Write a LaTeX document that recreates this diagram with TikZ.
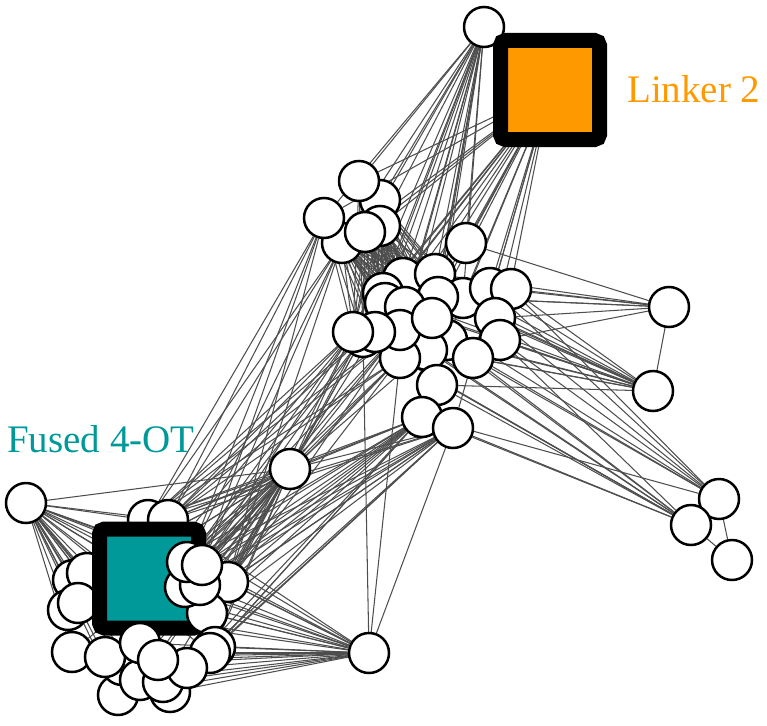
\documentclass[tikz,border=0pt]{standalone}
\usepackage{fontspec}
\setmainfont{Liberation Serif}
\usetikzlibrary{backgrounds}
\definecolor{edgegray}{RGB}{78,78,78}
\definecolor{tealc}{RGB}{0,153,153}
\definecolor{orangec}{RGB}{255,153,0}
\tikzset{
  circ/.style={circle, draw=black, fill=white, line width=2.5pt, minimum size=40pt, inner sep=0pt},
  hub/.style={rectangle, draw=black, line width=15pt, rounded corners=5pt, minimum size=99pt, inner sep=0pt},
  edge/.style={draw=edgegray, line width=1.05pt},
  lab/.style={anchor=base west, inner sep=0pt, font=\rmfamily\fontsize{39}{41}\selectfont}
}
\begin{document}
\begin{tikzpicture}[x=1pt,y=-1pt]
\useasboundingbox (0,0) rectangle (767,725);
% top and right
\node[circ] (t) at (484,27) {};
\node[hub, fill=orangec] (O) at (550,90) {};
\node[circ] (r1) at (669,307) {};
\node[circ] (r2) at (653,391) {};
\node[circ] (r3) at (719,499) {};
\node[circ] (r4) at (691,525) {};
\node[circ] (r5) at (732,560) {};
% upper cluster
\node[circ] (u7) at (466,243) {};
\node[circ] (u2) at (380,200) {};
\node[circ] (u1) at (359,181) {};
\node[circ] (u4) at (342,243) {};
\node[circ] (u3) at (324,218) {};
\node[circ] (u6) at (380,226) {};
\node[circ] (u5) at (365,232) {};
\node[circ] (u8) at (403,278) {};
\node[circ] (u9) at (435,274) {};
\node[circ] (u28) at (463,298) {};
\node[circ] (u10) at (490,288) {};
\node[circ] (u11) at (511,289) {};
\node[circ] (u12) at (383,293) {};
\node[circ] (u15) at (385,303) {};
\node[circ] (u13) at (438,297) {};
\node[circ] (u14) at (405,307) {};
\node[circ] (u20) at (495,318) {};
\node[circ] (u21) at (500,340) {};
\node[circ] (u26) at (447,340) {};
\node[circ] (u25) at (427,350) {};
\node[circ] (u24) at (400,358) {};
\node[circ] (u18) at (400,330) {};
\node[circ] (u27) at (363,337) {};
\node[circ] (u17) at (375,332) {};
\node[circ] (u16) at (353,332) {};
\node[circ] (u19) at (432,318) {};
\node[circ] (u22) at (473,358) {};
\node[circ] (u23) at (437,385) {};
\node[circ] (m1) at (422,417) {};
\node[circ] (m2) at (453,428) {};
\node[circ] (m3) at (290,469) {};
\node[circ] (m4) at (369,653) {};
\node[circ] (l) at (26,503) {};
% lower cluster
\node[circ] (L1) at (148,520) {};
\node[circ] (L2) at (168,520) {};
\node[circ] (L3) at (73,580) {};
\node[circ] (L4) at (87,573) {};
\node[circ] (L5) at (68,610) {};
\node[circ] (L6) at (78,603) {};
\node[hub, fill=tealc] (G) at (149,578.5) {};
\node[circ] (L11) at (228,582) {};
\node[circ] (L12) at (207,613) {};
\node[circ] (L9) at (185,587) {};
\node[circ] (L10) at (200,585) {};
\node[circ] (L7) at (187,562) {};
\node[circ] (L8) at (202,565) {};
\node[circ] (L23) at (215,647) {};
\node[circ] (L22) at (210,653) {};
\node[circ] (L13) at (72,652) {};
\node[circ] (L24) at (118,695) {};
\node[circ] (L21) at (170,692) {};
\node[circ] (L15) at (122,665) {};
\node[circ] (L14) at (105,657) {};
\node[circ] (L18) at (140,680) {};
\node[circ] (L19) at (163,682) {};
\node[circ] (L20) at (187,668) {};
\node[circ] (L16) at (140,643) {};
\node[circ] (L17) at (158,660) {};
% labels
\node[lab, text=orangec] (linker) at (627,102) {Linker 2};
\node[lab, text=tealc] (fused) at (7,452) {Fused 4-OT};
\begin{pgfonlayer}{background}
\def\UL{u1,u2,u3,u4,u5,u6}
\def\UC{u8,u9,u12,u13,u14,u15,u16,u17,u18,u19,u24,u25,u26,u27,u28}
\def\LA{L1,L2,L3,L4,L5,L6,L7,L8,L9,L10,L11,L12,L13,L14,L15,L16,L17,L18,L19,L20,L21,L22,L23,L24}
\foreach \a in \UL {\foreach \b in \UC {\draw[edge] (\a) -- (\b);}}
\foreach \b in {u1,u2,u3,u4,u5,u6,u7,u8,u9,u12,u13,u14,u15,u16,u18,u19,u24,u25,u27,u28,m1} {\draw[edge] (t) -- (\b);}
\foreach \b in {u1,u3,u4,u5,u6,u7,u8,u9,u10,u12,u13,u14,u15,u16,u17,u19,u20,u21,u22,u24,u26,u28,m2} {\draw[edge] (O) -- (\b);}
\foreach \b in {u7,u10,u11,u13,u20,u28,u9,u21} {\draw[edge] (r1) -- (\b);}
\foreach \b in {u8,u9,u10,u11,u13,u14,u18,u19,u20,u21,u22,u25,u26,u28,u23,u12} {\draw[edge] (r2) -- (\b);}
\foreach \b in {u10,u11,u20,u21,u22,u26,u19,m1} {\draw[edge] (r3) -- (\b);}
\foreach \b in {u12,u16,u18,u21,u22,u24,u25,u27,m1,m2,u23} {\draw[edge] (r4) -- (\b);}
\draw[edge] (r1) -- (r2);
\draw[edge] (r3) -- (r5);
\draw[edge] (r4) -- (r5);
\foreach \b in \LA {\draw[edge] (m3) -- (\b); \draw[edge] (m4) -- (\b); \draw[edge] (l) -- (\b);}
\draw[edge] (l) -- (m3);
\foreach \a in {m1,m2} {\foreach \b in {L1,L2,L7,L8,L9,L10,L11,L12,L22,L23,L16,L20} {\draw[edge] (\a) -- (\b);}}
\foreach \a in {u16,u27,u24,u18,u4,u3} {\foreach \b in {L1,L2,L7,L8,L11} {\draw[edge] (\a) -- (\b);}}
\foreach \b in {u16,u17,u18,u24,u25,u12,m1,m2,u27} {\draw[edge] (m3) -- (\b);}
\foreach \b in {u27,u24,m2} {\draw[edge] (m4) -- (\b);}
\foreach \b in {G} {\draw[edge] (\b) -- (m3); \draw[edge] (\b) -- (m4); \draw[edge] (\b) -- (l); \draw[edge] (\b) -- (m1); \draw[edge] (\b) -- (u16);}
\end{pgfonlayer}
\end{tikzpicture}
\end{document}
